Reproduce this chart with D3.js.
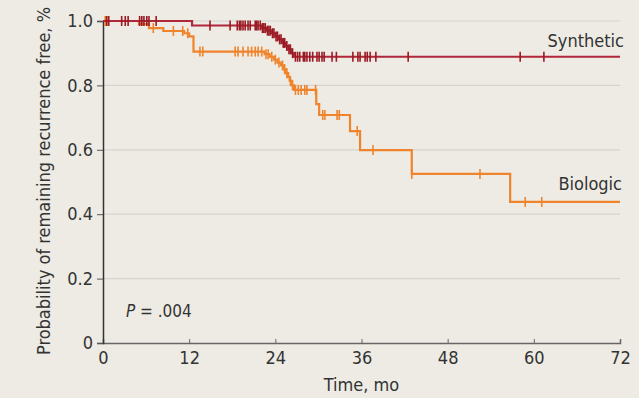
<!DOCTYPE html>
<html><head><meta charset="utf-8">
<script src="https://cdn.jsdelivr.net/npm/d3@7"></script>
<style>
html,body{margin:0;padding:0;background:#edebe4;}
svg{display:block;}
text{font-family:"Liberation Sans Narrow","DejaVu Sans Condensed","Roboto Condensed",sans-serif;fill:#333;}
</style></head>
<body>
<script>
// ---- data ----
const xTicks = [0, 12, 24, 36, 48, 60, 72];
const yTicks = [0, 0.2, 0.4, 0.6, 0.8, 1.0];
const yTickLabels = ["0", "0.2", "0.4", "0.6", "0.8", "1.0"];

// Synthetic: event times and survival after each event
const synthTimes = [0, 12.4, 22.0, 22.8, 23.4, 24.0, 24.5, 25.0, 25.4, 25.8, 26.2, 26.6, 72];
const synthSurv  = [1.0, 0.986, 0.978, 0.970, 0.962, 0.952, 0.943, 0.932, 0.922, 0.912, 0.900, 0.889, 0.889];
const synthCensor = [0.5, 0.8, 2.6, 3.1, 3.5, 5.1, 5.4, 5.7, 6.1, 6.4, 7.4, 14.9, 17.7, 18.7, 19.0, 19.2, 19.5, 19.8, 20.2, 20.5, 21.2, 21.4, 21.6, 21.9,
  22.2, 22.4, 22.6, 22.9, 23.1, 23.3, 23.6, 23.8, 24.1, 24.3, 24.6, 24.8, 25.1, 25.3, 25.6, 25.9, 26.1, 26.4,
  26.8, 27.1, 27.4, 27.9, 28.1, 28.4, 28.8, 29.2, 29.8, 30.1, 30.5, 30.8, 31.9, 32.5, 34.8, 35.5, 35.8, 36.5, 36.8, 37.2, 38.0, 42.5, 58.1, 61.4];

// Biologic
const bioTimes = [0, 5.0, 6.4, 8.4, 11.3, 12.0, 12.6, 22.5, 23.2, 23.8, 24.3, 24.8, 25.2, 25.5, 25.8, 26.0, 26.3, 26.6, 29.7, 30.1, 34.4, 35.8, 43.0, 56.7, 72];
const bioSurv  = [1.0, 0.990, 0.978, 0.969, 0.962, 0.952, 0.905, 0.897, 0.889, 0.880, 0.871, 0.862, 0.850, 0.838, 0.826, 0.814, 0.800, 0.786, 0.742, 0.708, 0.658, 0.599, 0.525, 0.438, 0.438];
const bioCensor = [0.3, 0.7, 7.0, 9.8, 11.1, 11.8, 13.5, 13.9, 18.4, 18.8, 19.5, 20.2, 20.7, 21.2, 21.6, 22.1,
  22.7, 23.0, 23.5, 24.0, 24.5, 25.0, 25.3, 25.6, 26.1, 26.4, 26.8, 27.2, 27.6, 28.1, 28.4, 29.6, 30.6, 30.9, 32.6, 32.9, 35.4, 37.6, 43.0, 52.5, 58.8, 61.1];

const labels = {synth: "Synthetic", bio: "Biologic"};

// ---- layout ----
const W = 639, H = 398;
const m = {left: 103, right: 19, top: 21, bottom: 55};
const svg = d3.select("body").append("svg").attr("width", W).attr("height", H);

const x = d3.scaleLinear().domain([0, 72]).range([m.left, W - m.right]);
const y = d3.scaleLinear().domain([0, 1]).range([H - m.bottom, m.top]);

// gridlines
svg.append("g").selectAll("line").data(yTicks.slice(1)).join("line")
  .attr("x1", x(0)).attr("x2", x(72))
  .attr("y1", d => y(d)).attr("y2", d => y(d))
  .attr("stroke", "#d5d4ce").attr("stroke-width", 1.2);

// x axis
const xAxis = svg.append("g").attr("transform", `translate(0,${y(0)})`)
  .call(d3.axisBottom(x).tickValues(xTicks).tickSize(-4).tickPadding(8).tickFormat(d3.format("d")));
xAxis.select(".domain").attr("stroke", "#666").attr("stroke-width", 1.5);
xAxis.selectAll(".tick line").attr("stroke", "#666");
xAxis.selectAll("text").attr("font-size", 18).style("fill", "#333");

// y axis
const yAxis = svg.append("g").attr("transform", `translate(${x(0)},0)`)
  .call(d3.axisLeft(y).tickValues(yTicks).tickSize(6).tickPadding(4).tickFormat((d, i) => yTickLabels[i]));
yAxis.select(".domain").attr("stroke", "#333").attr("stroke-width", 1.5);
yAxis.selectAll(".tick line").attr("stroke", "#555");
yAxis.selectAll("text").attr("font-size", 18).style("fill", "#333");

// titles
svg.append("text").attr("x", (x(0) + x(72)) / 2).attr("y", 391).attr("text-anchor", "middle")
  .attr("font-size", 18).text("Time, mo");
svg.append("text").attr("transform", `translate(50,${(y(0) + y(1)) / 2 - 1}) rotate(-90)`)
  .attr("text-anchor", "middle").attr("font-size", 18)
  .text("Probability of remaining recurrence free, %");

// curves
function stepFn(times, surv) {
  return t => { let s = surv[0]; for (let i = 0; i < times.length; i++) { if (times[i] <= t) s = surv[i]; } return s; };
}
const line = d3.line().x(d => x(d[0])).y(d => y(d[1])).curve(d3.curveStepAfter);

function drawCurve(times, surv, censor, lineColor, markColor) {
  const g = svg.append("g");
  g.append("path").datum(times.map((t, i) => [t, surv[i]]))
    .attr("d", line).attr("fill", "none").attr("stroke", lineColor).attr("stroke-width", 2.2);
  const f = stepFn(times, surv);
  g.selectAll("line").data(censor).join("line")
    .attr("x1", d => x(d)).attr("x2", d => x(d))
    .attr("y1", d => y(f(d)) - 5).attr("y2", d => y(f(d)) + 5)
    .attr("stroke", markColor).attr("stroke-width", 1.6);
}
drawCurve(bioTimes, bioSurv, bioCensor, "#f0842c", "#f0842c");
drawCurve(synthTimes, synthSurv, synthCensor, "#b0273a", "#9a1a24");

// labels
svg.append("text").attr("x", 624).attr("y", 47).attr("text-anchor", "end").attr("font-size", 18).text(labels.synth);
svg.append("text").attr("x", 622).attr("y", 190).attr("text-anchor", "end").attr("font-size", 18).text(labels.bio);

const p = svg.append("text").attr("x", 126).attr("y", 317).attr("font-size", 17);
p.append("tspan").attr("font-style", "italic").text("P");
p.append("tspan").text(" = .004");
</script>
</body></html>
